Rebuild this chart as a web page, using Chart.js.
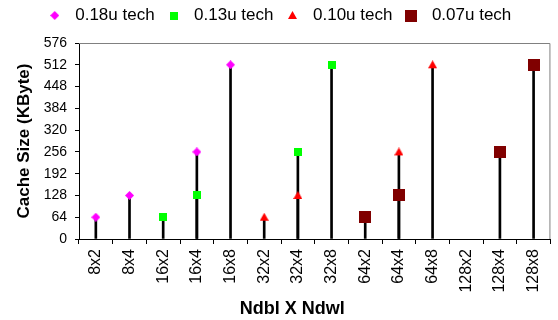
<!DOCTYPE html>
<html>
<head>
<meta charset="utf-8">
<script src="https://cdn.jsdelivr.net/npm/chart.js@4"></script>
<style>
  body { margin: 0; background: #fff; }
</style>
</head>
<body>
<canvas id="chart" width="558" height="320"></canvas>
<script>
const categories = ["8x2", "8x4", "16x2", "16x4", "16x8", "32x2", "32x4", "32x8",
  "64x2", "64x4", "64x8", "128x2", "128x4", "128x8"];
const yTicks = [0, 64, 128, 192, 256, 320, 384, 448, 512, 576];

// valori per serie (null = nessun punto)
const tech018 = [64, 128, null, 256, 512, null, null, null, null, null, null, null, null, null];
const tech013 = [null, null, 64, 128, null, null, 256, 512, null, null, null, null, null, null];
const tech010 = [null, null, null, null, null, 64, 128, null, null, 256, 512, null, null, null];
const tech007 = [null, null, null, null, null, null, null, null, 64, 128, null, null, 256, 512];

const seriesNames = ["0.18u tech", "0.13u tech", "0.10u tech", "0.07u tech"];
const seriesData = [tech018, tech013, tech010, tech007];

// marcatori disegnati su un piccolo canvas
function marker(shape, size, color) {
  const c = document.createElement("canvas");
  c.width = size;
  c.height = size;
  const ctx = c.getContext("2d");
  const h = size / 2;
  ctx.fillStyle = color;
  ctx.beginPath();
  if (shape === "diamond") {
    ctx.moveTo(h, 0); ctx.lineTo(size, h); ctx.lineTo(h, size); ctx.lineTo(0, h);
  } else if (shape === "triangle") {
    ctx.moveTo(h, 0); ctx.lineTo(size, size - 1); ctx.lineTo(0, size - 1);
  } else {
    ctx.rect(0, 0, size, size);
  }
  ctx.closePath();
  ctx.fill();
  return c;
}

const markers = [
  marker("diamond", 9, "#ff00ff"),
  marker("square", 8, "#00ff00"),
  marker("triangle", 9, "#ff0000"),
  marker("square", 12, "#800000"),
];
const colors = ["#ff00ff", "#00ff00", "#ff0000", "#800000"];

const pointSets = seriesData.map((d, i) => ({
  type: "line",
  label: seriesNames[i],
  data: d,
  showLine: false,
  pointStyle: markers[i],
  pointRadius: 5,
  backgroundColor: colors[i],
  borderColor: colors[i],
  order: 1,
}));

// linee verticali dallo zero al valore
const dropSets = seriesData.map((d, i) => ({
  type: "bar",
  label: "drop" + i,
  data: d,
  backgroundColor: "#000",
  barThickness: 2,
  grouped: false,
  order: 2,
}));

const frame = {
  id: "frame",
  beforeDatasetsDraw(chart) {
    const { ctx, chartArea: a } = chart;
    ctx.save();
    ctx.strokeStyle = "#808080";
    ctx.lineWidth = 1;
    ctx.beginPath();
    ctx.moveTo(a.left, a.top + 0.5);
    ctx.lineTo(a.right - 0.5, a.top + 0.5);
    ctx.lineTo(a.right - 0.5, a.bottom);
    ctx.stroke();
    ctx.restore();
  },
};

const font = "'Liberation Sans', Arial, sans-serif";

new Chart(document.getElementById("chart"), {
  type: "bar",
  data: { labels: categories, datasets: [...pointSets, ...dropSets] },
  plugins: [frame],
  options: {
    responsive: false,
    animation: false,
    layout: { padding: { left: 0, right: 4, top: 0, bottom: 0 } },
    plugins: {
      tooltip: { enabled: false },
      title: { display: true, text: "", padding: 0, font: { size: 9, lineHeight: 1 } },
      legend: {
        position: "top",
        weight: 3000,
        labels: {
          usePointStyle: true,
          pointStyleWidth: 24,
          padding: 7,
          color: "#000",
          font: { family: font, size: 17 },
          filter: (item) => item.datasetIndex < 4,
        },
      },
    },
    scales: {
      x: {
        offset: true,
        afterFit: (s) => { s.height = 81; },
        grid: { offset: true, drawOnChartArea: false, color: "#000", tickLength: 5 },
        border: { color: "#000", width: 1 },
        ticks: {
          autoSkip: false,
          maxRotation: 90,
          minRotation: 90,
          padding: 5,
          color: "#000",
          font: { family: font, size: 16 },
        },
        title: {
          display: true,
          text: "Ndbl X Ndwl" + "         ",
          color: "#000",
          padding: { top: 0, bottom: 0 },
          font: { family: font, size: 18, weight: "bold" },
        },
      },
      y: {
        min: 0,
        max: 576,
        afterFit: (s) => { s.width = 79; },
        afterBuildTicks: (s) => { s.ticks = yTicks.map((v) => ({ value: v })); },
        grid: { drawOnChartArea: false, color: "#000", tickLength: 4 },
        border: { color: "#000", width: 1 },
        ticks: {
          padding: 8,
          color: "#000",
          font: { family: font, size: 14 },
        },
        title: {
          display: true,
          text: "Cache Size (KByte)",
          color: "#000",
          padding: { top: 14, bottom: 0 },
          font: { family: font, size: 17, weight: "bold" },
        },
      },
    },
  },
});
</script>
</body>
</html>
